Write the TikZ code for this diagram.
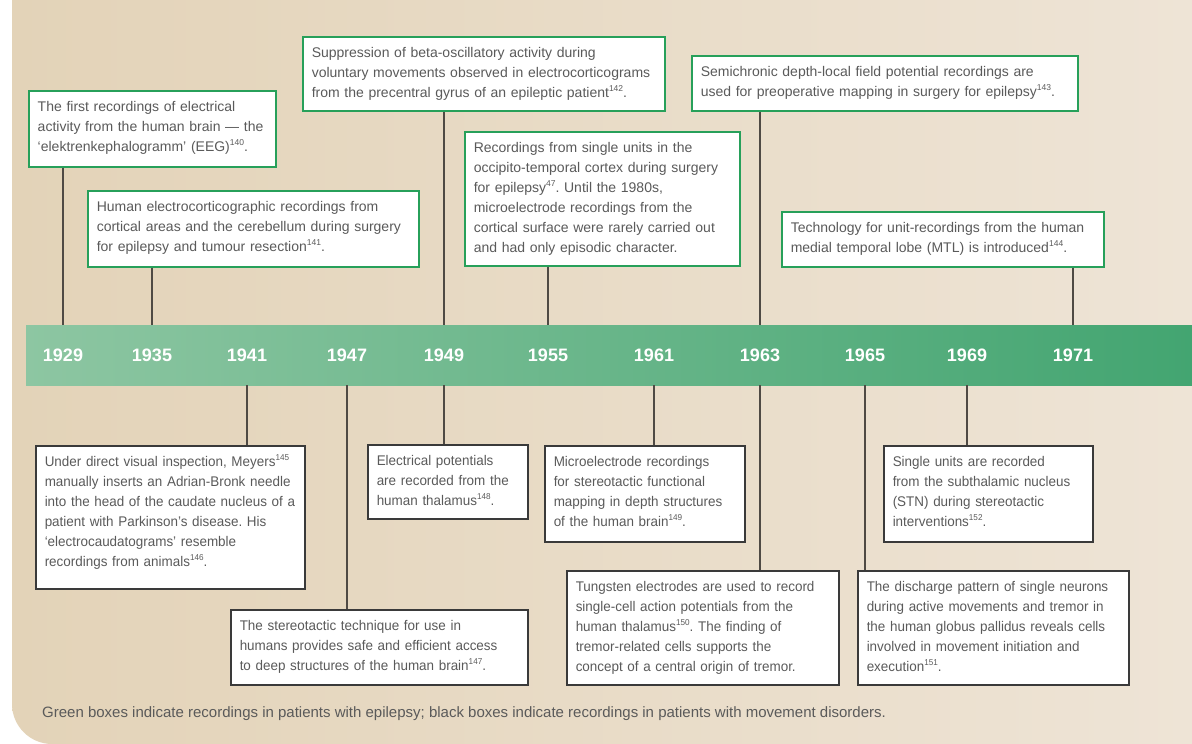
\documentclass[tikz,border=0pt]{standalone}
\usepackage{fontspec}
\setmainfont{Liberation Sans}
\newfontfamily\condfont[FakeStretch=0.96]{Liberation Sans}
\definecolor{bgL}{HTML}{E3D3B8}
\definecolor{bgR}{HTML}{EEE4D6}
\definecolor{barL}{HTML}{8DC6A2}
\definecolor{barR}{HTML}{43A571}
\definecolor{grn}{HTML}{27A05A}
\definecolor{blk}{HTML}{3A3A3A}
\definecolor{txt}{HTML}{5A5A5A}
\definecolor{conn}{HTML}{4F4A44}
\newcommand\refno[1]{\raisebox{0.85ex}{\fontsize{8.5}{8.5}\selectfont #1}}
\newcommand\oneline[1]{\mbox{#1}}
\frenchspacing
\begin{document}
\begin{tikzpicture}[x=1pt,y=-1pt,
  evbox/.style={draw, fill=white, line width=1.5pt, anchor=north west, align=left,
    inner xsep=9pt, inner ysep=8pt, text height=13pt, text=txt},
  gbox/.style={evbox, draw=grn, font=\fontsize{14}{20}\selectfont},
  kbox/.style={evbox, draw=blk, font=\condfont\fontsize{14}{20}\selectfont},
  year/.style={text=white, font=\fontsize{18}{18}\selectfont\bfseries, inner sep=0pt},
  conline/.style={draw=conn, line width=1.2pt}]
\useasboundingbox (0,0) rectangle (1192,744);
\fill[white] (0,0) rectangle (1192,744);
% background panel
\shade[left color=bgL, right color=bgR] (12,0) -- (1192,0) -- (1192,744) -- (52,744)
  .. controls (30,744) and (12,726) .. (12,704) -- cycle;
% timeline bar
\node[anchor=north west, minimum width=1166pt, minimum height=60pt, inner sep=0pt,
  left color=barL, right color=barR] (bar) at (26,325) {};
% years
\node[year] (y1929) at (63,355) {1929};
\node[year] (y1935) at (152,355) {1935};
\node[year] (y1941) at (247,355) {1941};
\node[year] (y1947) at (347,355) {1947};
\node[year] (y1949) at (444,355) {1949};
\node[year] (y1955) at (548,355) {1955};
\node[year] (y1961) at (654,355) {1961};
\node[year] (y1963) at (760,355) {1963};
\node[year] (y1965) at (865,355) {1965};
\node[year] (y1969) at (967,355) {1969};
\node[year] (y1971) at (1073,355) {1971};
% top boxes (epilepsy, green)
\node[gbox, text width=229pt, text depth=47pt] (b1929) at (28,90) {%
\oneline{The first recordings of electrical}\\
\oneline{activity from the human brain — the}\\
\oneline{‘elektrenkephalogramm’ (EEG)\refno{140}.}};
\node[gbox, text width=313pt, text depth=47pt] (b1935) at (87,190) {%
\oneline{Human electrocorticographic recordings from}\\
\oneline{cortical areas and the cerebellum during surgery}\\
\oneline{for epilepsy and tumour resection\refno{141}.}};
\node[gbox, text width=344pt, text depth=45pt] (b1949t) at (302,36) {%
\oneline{Suppression of beta-oscillatory activity during}\\
\oneline{voluntary movements observed in electrocorticograms}\\
\oneline{from the precentral gyrus of an epileptic patient\refno{142}.}};
\node[gbox, text width=257pt, text depth=105pt] (b1955) at (464,131) {%
\oneline{Recordings from single units in the}\\
\oneline{occipito-temporal cortex during surgery}\\
\oneline{for epilepsy\refno{47}. Until the 1980s,}\\
\oneline{microelectrode recordings from the}\\
\oneline{cortical surface were rarely carried out}\\
\oneline{and had only episodic character.}};
\node[gbox, text width=368pt, text depth=26pt] (b1963t) at (691,55) {%
\oneline{Semichronic depth-local field potential recordings are}\\
\oneline{used for preoperative mapping in surgery for epilepsy\refno{143}.}};
\node[gbox, text width=304pt, text depth=26pt] (b1971) at (781,211) {%
\oneline{Technology for unit-recordings from the human}\\
\oneline{medial temporal lobe (MTL) is introduced\refno{144}.}};
% bottom boxes (movement disorders, black)
\node[kbox, text width=251pt, text depth=114pt] (b1941) at (35,445) {%
\oneline{Under direct visual inspection, Meyers\refno{145}}\\
\oneline{manually inserts an Adrian-Bronk needle}\\
\oneline{into the head of the caudate nucleus of a}\\
\oneline{patient with Parkinson’s disease. His}\\
\oneline{‘electrocaudatograms’ resemble}\\
\oneline{recordings from animals\refno{146}.}};
\node[kbox, text width=279pt, text depth=46pt] (b1947) at (230,609) {%
\oneline{The stereotactic technique for use in}\\
\oneline{humans provides safe and efficient access}\\
\oneline{to deep structures of the human brain\refno{147}.}};
\node[kbox, text width=142pt, text depth=45pt] (b1949b) at (367,444) {%
\oneline{Electrical potentials}\\
\oneline{are recorded from the}\\
\oneline{human thalamus\refno{148}.}};
\node[kbox, text width=182pt, text depth=67pt] (b1961) at (544,445) {%
\oneline{Microelectrode recordings}\\
\oneline{for stereotactic functional}\\
\oneline{mapping in depth structures}\\
\oneline{of the human brain\refno{149}.}};
\node[kbox, text width=254pt, text depth=85pt] (b1963b) at (566,570) {%
\oneline{Tungsten electrodes are used to record}\\
\oneline{single-cell action potentials from the}\\
\oneline{human thalamus\refno{150}. The finding of}\\
\oneline{tremor-related cells supports the}\\
\oneline{concept of a central origin of tremor.}};
\node[kbox, text width=253pt, text depth=85pt] (b1965) at (857,570) {%
\oneline{The discharge pattern of single neurons}\\
\oneline{during active movements and tremor in}\\
\oneline{the human globus pallidus reveals cells}\\
\oneline{involved in movement initiation and}\\
\oneline{execution\refno{151}.}};
\node[kbox, text width=191pt, text depth=67pt] (b1969) at (883,445) {%
\oneline{Single units are recorded}\\
\oneline{from the subthalamic nucleus}\\
\oneline{(STN) during stereotactic}\\
\oneline{interventions\refno{152}.}};
% connectors, top
\draw[conline] (b1929.south -| y1929) -- (bar.north -| y1929);
\draw[conline] (b1935.south -| y1935) -- (bar.north -| y1935);
\draw[conline] (b1949t.south -| y1949) -- (bar.north -| y1949);
\draw[conline] (b1955.south -| y1955) -- (bar.north -| y1955);
\draw[conline] (b1963t.south -| y1963) -- (bar.north -| y1963);
\draw[conline] (b1971.south -| y1971) -- (bar.north -| y1971);
% connectors, bottom
\draw[conline] (bar.south -| y1941) -- (b1941.north -| y1941);
\draw[conline] (bar.south -| y1947) -- (b1947.north -| y1947);
\draw[conline] (bar.south -| y1949) -- (b1949b.north -| y1949);
\draw[conline] (bar.south -| y1961) -- (b1961.north -| y1961);
\draw[conline] (bar.south -| y1963) -- (b1963b.north -| y1963);
\draw[conline] (bar.south -| y1965) -- (b1965.north -| y1965);
\draw[conline] (bar.south -| y1969) -- (b1969.north -| y1969);
% caption
\node[anchor=base west, inner sep=0pt, text=txt, font=\fontsize{15}{18}\selectfont] (cap) at (42,717)
  {Green boxes indicate recordings in patients with epilepsy; black boxes indicate recordings in patients with movement disorders.};
\end{tikzpicture}
\end{document}
